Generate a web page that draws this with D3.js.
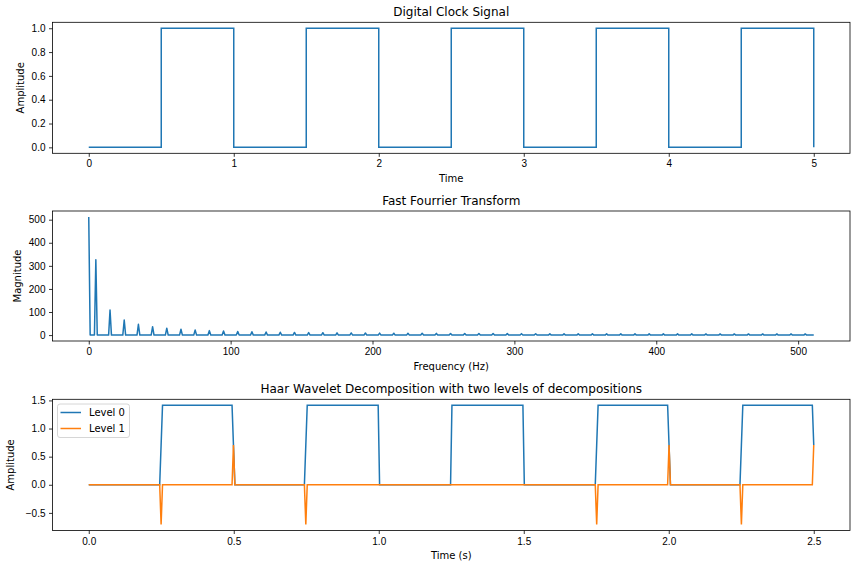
<!DOCTYPE html>
<html>
<head>
<meta charset="utf-8">
<script src="https://cdn.jsdelivr.net/npm/d3@7"></script>
<style>
  body { margin: 0; background: #fff; }
  svg { font-family: "DejaVu Sans", sans-serif; }
  .tick text { font-size: 10px; fill: #000; }
  .domain { stroke: none; }
</style>
</head>
<body>
<svg width="856" height="568"></svg>
<script>
// ---- data ----
// clock: level held from each edge time until the next one
const clockEdges = [0, 0.5, 1, 1.5, 2, 2.5, 3, 3.5, 4, 4.5, 5];
const clockLevels = [0, 1, 0, 1, 0, 1, 0, 1, 0, 1, 0];

// fft: DC bin, then odd harmonics of 5 Hz
const fftDC = 512;
const fftHarmFreq = [5, 15, 25, 35, 45, 55, 65, 75, 85, 95, 105, 115, 125, 135, 145, 155, 165,
  175, 185, 195, 205, 215, 225, 235, 245, 255, 265, 275, 285, 295, 305, 315, 325, 335, 345,
  355, 365, 375, 385, 395, 405, 415, 425, 435, 445, 455, 465, 475, 485, 495, 505];
const fftHarmMag = [326, 108.7, 65.3, 46.7, 36.3, 29.8, 25.2, 21.9, 19.4, 17.4, 15.8, 14.5, 13.4,
  12.4, 11.6, 10.9, 10.3, 9.8, 9.3, 8.9, 8.5, 8.2, 7.9, 7.6, 7.3, 7.1, 6.9, 6.7, 6.5, 6.4, 6.2,
  6.1, 6.0, 5.8, 5.7, 5.6, 5.6, 5.5, 5.4, 5.3, 5.3, 5.2, 5.2, 5.1, 5.1, 5.1, 5.1, 5.0, 5.0, 5.0, 5.0];
const fftLastBin = 511;

// haar coefficients, sample points around each transition
const level0X = [0, 0.2446, 0.2495, 0.2544, 0.4941, 0.4990, 0.5039, 0.7436, 0.7485, 0.7534,
  0.9980, 1.0029, 1.2476, 1.2524, 1.4971, 1.5020, 1.7466, 1.7515, 1.7564, 1.9961, 2.0010,
  2.0059, 2.2456, 2.2505, 2.2554, 2.4951, 2.5];
const level0Y = [0, 0, 0.707, 1.414, 1.414, 0.707, 0, 0, 0.707, 1.414,
  1.414, 0, 0, 1.414, 1.414, 0, 0, 0.707, 1.414, 1.414, 0.707,
  0, 0, 0.707, 1.414, 1.414, 0.707];
const level1X = [0, 0.2446, 0.2495, 0.2544, 0.4941, 0.4990, 0.5039, 0.7436, 0.7485, 0.7534,
  1.7466, 1.7515, 1.7564, 1.9961, 2.0010, 2.0059, 2.2456, 2.2505, 2.2554, 2.4951, 2.5];
const level1Y = [0, 0, -0.707, 0, 0, 0.707, 0, 0, -0.707, 0,
  0, -0.707, 0, 0, 0.707, 0, 0, -0.707, 0, 0, 0.707];

const blue = "#1f77b4", orange = "#ff7f0e";
const svg = d3.select("svg");
const left = 52.5, right = 850;

function panel(top, bottom, xDom, yDom, opts) {
  const x = d3.scaleLinear().domain(xDom).range([left, right]);
  const y = d3.scaleLinear().domain(yDom).range([bottom, top]);
  const g = svg.append("g");

  g.append("g")
    .attr("transform", `translate(0,${bottom})`)
    .call(d3.axisBottom(x).tickValues(opts.xTicks).tickFormat(opts.xFmt).tickSize(3.5).tickPadding(3.5))
    .call((a) => a.selectAll(".tick line").attr("stroke", "#000").attr("stroke-width", 0.8));
  g.append("g")
    .attr("transform", `translate(${left},0)`)
    .call(d3.axisLeft(y).tickValues(opts.yTicks).tickFormat(opts.yFmt).tickSize(3.5).tickPadding(3.5))
    .call((a) => a.selectAll(".tick line").attr("stroke", "#000").attr("stroke-width", 0.8));

  g.append("text")
    .attr("x", (left + right) / 2).attr("y", top - 6.5)
    .attr("text-anchor", "middle").attr("font-size", 12)
    .text(opts.title);
  g.append("text")
    .attr("x", (left + right) / 2).attr("y", bottom + 28.5)
    .attr("text-anchor", "middle").attr("font-size", 10)
    .text(opts.xLabel);
  g.append("text")
    .attr("transform", `translate(${opts.yLabelX},${(top + bottom) / 2}) rotate(-90)`)
    .attr("text-anchor", "middle").attr("dominant-baseline", "central").attr("font-size", 10)
    .text(opts.yLabel);

  const plot = g.append("g");
  g.append("rect")
    .attr("x", left).attr("y", top).attr("width", right - left).attr("height", bottom - top)
    .attr("fill", "none").attr("stroke", "#000").attr("stroke-width", 0.8);
  return { x, y, plot };
}

const fmt1 = d3.format(".1f");
const fmtMinus = (d) => fmt1(d).replace("-", "\u2212");

// ---- panel 1: clock ----
const p1 = panel(22.3, 153.3, [-0.25, 5.25], [-0.05, 1.05], {
  xTicks: [0, 1, 2, 3, 4, 5], xFmt: d3.format("d"),
  yTicks: [0, 0.2, 0.4, 0.6, 0.8, 1.0], yFmt: fmt1,
  title: "Digital Clock Signal", xLabel: "Time", yLabel: "Amplitude", yLabelX: 20
});
const clockPts = clockEdges.map((t, i) => [t, clockLevels[i]]);
p1.plot.append("path")
  .datum(clockPts)
  .attr("fill", "none").attr("stroke", blue).attr("stroke-width", 1.5)
  .attr("d", d3.line().x((d) => p1.x(d[0])).y((d) => p1.y(d[1])).curve(d3.curveStepAfter));

// ---- panel 2: fft ----
const fftPad = (fftLastBin) * 0.05;
const p2 = panel(211, 341, [-fftPad, fftLastBin + fftPad], [-fftDC * 0.05, fftDC * 1.05], {
  xTicks: [0, 100, 200, 300, 400, 500], xFmt: d3.format("d"),
  yTicks: [0, 100, 200, 300, 400, 500], yFmt: d3.format("d"),
  title: "Fast Fourrier Transform", xLabel: "Frequency (Hz)", yLabel: "Magnitude", yLabelX: 17.5
});
const fftPts = [[0, fftDC]];
fftHarmFreq.forEach((f, i) => {
  fftPts.push([f - 1, 0], [f, fftHarmMag[i]], [f + 1, 0]);
});
fftPts.splice(1, 0, [1, 0]);
fftPts.push([fftLastBin, 0]);
p2.plot.append("path")
  .datum(fftPts)
  .attr("fill", "none").attr("stroke", blue).attr("stroke-width", 1.5).attr("stroke-linejoin", "round")
  .attr("d", d3.line().x((d) => p2.x(d[0])).y((d) => p2.y(d[1])));

// ---- panel 3: haar ----
const yMin = d3.min(level1Y), yMax = d3.max(level0Y), yPad = (yMax - yMin) * 0.05;
const p3 = panel(399.3, 530.5, [-0.125, 2.625], [yMin - yPad, yMax + yPad], {
  xTicks: [0, 0.5, 1, 1.5, 2, 2.5], xFmt: fmt1,
  yTicks: [-0.5, 0, 0.5, 1, 1.5], yFmt: fmtMinus,
  title: "Haar Wavelet Decomposition with two levels of decompositions",
  xLabel: "Time (s)", yLabel: "Amplitude", yLabelX: 10.5
});
const series = [
  { name: "Level 0", color: blue, pts: level0X.map((v, i) => [v, level0Y[i]]) },
  { name: "Level 1", color: orange, pts: level1X.map((v, i) => [v, level1Y[i]]) }
];
const line3 = d3.line().x((d) => p3.x(d[0])).y((d) => p3.y(d[1]));
p3.plot.selectAll("path")
  .data(series)
  .join("path")
  .attr("fill", "none").attr("stroke", (d) => d.color).attr("stroke-width", 1.5)
  .attr("d", (d) => line3(d.pts));

// legend
const leg = svg.append("g").attr("transform", "translate(57.5,404)");
leg.append("rect")
  .attr("width", 72).attr("height", 33.5).attr("rx", 2.5)
  .attr("fill", "#fff").attr("fill-opacity", 0.8).attr("stroke", "#ccc").attr("stroke-width", 0.8);
const li = leg.selectAll("g.item").data(series).join("g")
  .attr("class", "item")
  .attr("transform", (d, i) => `translate(0,${8.5 + i * 16})`);
li.append("line").attr("x1", 3).attr("x2", 23.5)
  .attr("stroke", (d) => d.color).attr("stroke-width", 1.5);
li.append("text").attr("x", 31.5).attr("y", 3.6).attr("font-size", 10).text((d) => d.name);
</script>
</body>
</html>
